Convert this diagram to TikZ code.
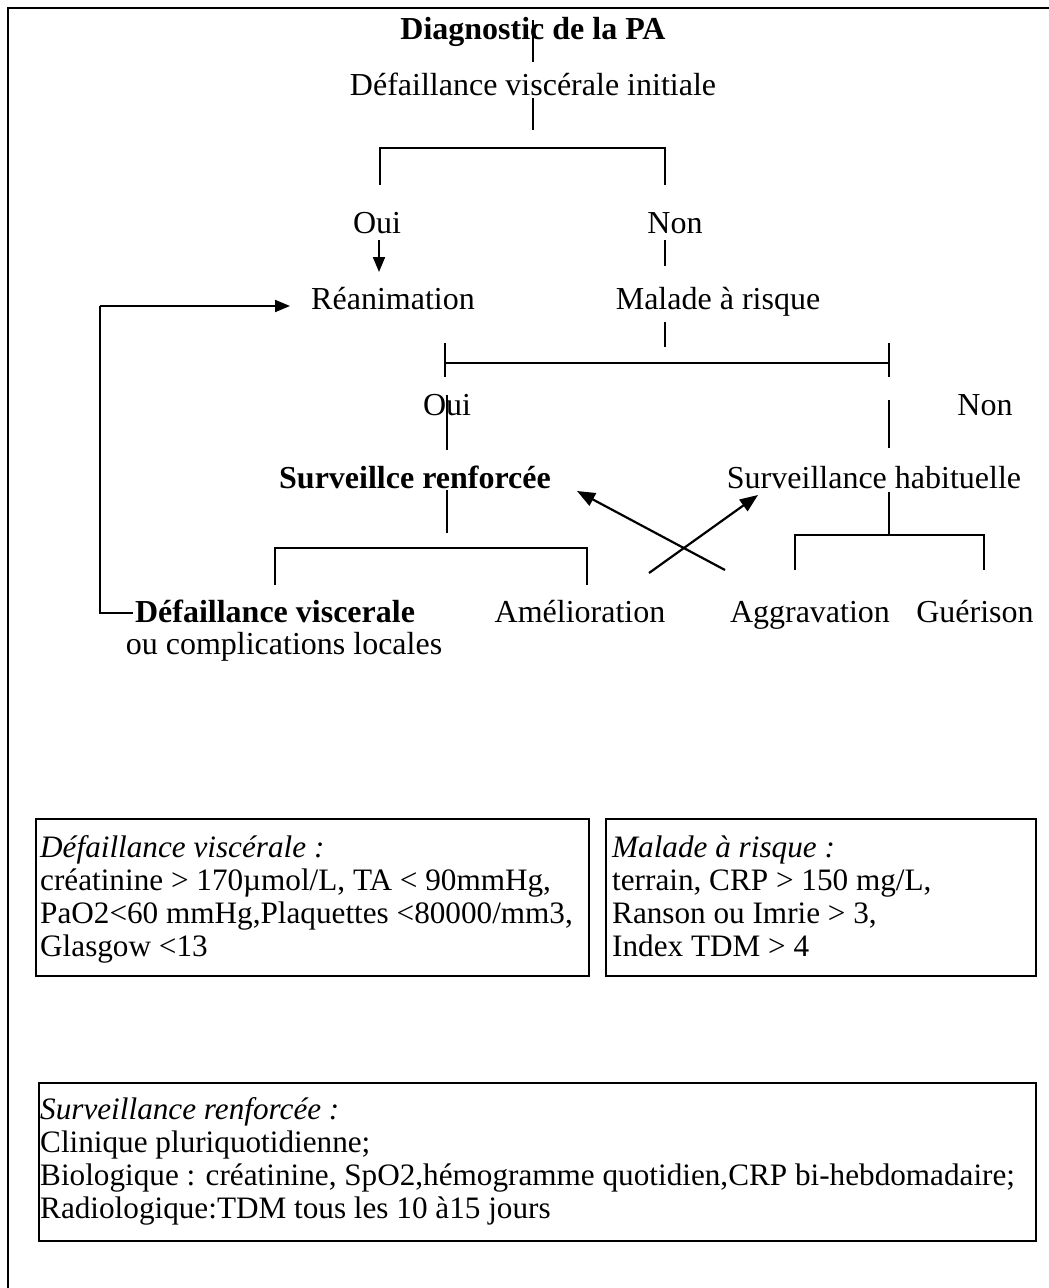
\documentclass[tikz,border=0pt]{standalone}
\usepackage{fontspec}
\setmainfont{Liberation Serif}
\usetikzlibrary{arrows.meta,calc}
\begin{document}
\begin{tikzpicture}[x=1pt,y=-1pt,
  lbl/.style={inner sep=0pt, anchor=base, font=\fontsize{32}{34}\selectfont},
  blbl/.style={inner sep=0pt, anchor=base, font=\fontsize{32}{34}\selectfont\bfseries},
  ilbl/.style={inner sep=0pt, anchor=base west, font=\fontsize{31.2}{33}\selectfont\itshape},
  rlbl/.style={inner sep=0pt, anchor=base west, font=\fontsize{31.2}{33}\selectfont},
  conn/.style={line width=1.5pt},
  arr/.style={line width=2pt,-{Triangle[length=15pt,width=12pt]}},
  bigarr/.style={line width=2.2pt,-{Triangle[length=18pt,width=14pt]}},
  infobox/.style={draw, line width=1.8pt, inner sep=0pt, anchor=north west}]
\useasboundingbox (0,0) rectangle (1049,1288);
\fill[white] (0,0) rectangle (1049,1288);
% page frame
\draw[line width=2.5pt] (8,1300) -- (8,8) -- (1060,8);

% decision tree labels
\node[blbl] (title) at (533,39) {Diagnostic de la PA};
\node[lbl] (dvi) at (533,95) {Défaillance viscérale initiale};
\node[lbl] (oui1) at (377,233) {Oui};
\node[lbl] (non1) at (675,233) {Non};
\node[lbl] (rea) at (393,309) {Réanimation};
\node[lbl] (mar) at (718,309) {Malade à risque};
\node[lbl] (oui2) at (447,415) {Oui};
\node[lbl] (non2) at (985,415) {Non};
\node[blbl] (sren) at (415,488) {Surveillce renforcée};
\node[lbl] (shab) at (874,488) {Surveillance habituelle};
\node[blbl] (dvis) at (275,622) {Défaillance viscerale};
\node[lbl] (dvis2) at (284,654) {ou complications locales};
\node[lbl] (amel) at (580,622) {Amélioration};
\node[lbl] (aggr) at (810,622) {Aggravation};
\node[lbl] (guer) at (975,622) {Guérison};

% connector points
\coordinate (t1) at (533,20);  \coordinate (t2) at (533,62);
\coordinate (d1) at (533,98);  \coordinate (d2) at (533,130);
\coordinate (b1l) at (380,148); \coordinate (b1r) at (665,148);
\coordinate (b1lb) at (380,185); \coordinate (b1rb) at (665,185);
\coordinate (o1a) at (379,240); \coordinate (o1b) at (379,272);
\coordinate (n1a) at (665,240); \coordinate (n1b) at (665,266);
\coordinate (m1) at (665,322); \coordinate (m2) at (665,347);
\coordinate (b2l) at (445,363); \coordinate (b2r) at (889,363);
\coordinate (o2a) at (447,395); \coordinate (o2b) at (447,450);
\coordinate (n2a) at (889,400); \coordinate (n2b) at (889,448);
\coordinate (s1a) at (447,490); \coordinate (s1b) at (447,533);
\coordinate (b3l) at (275,548); \coordinate (b3r) at (587,548);
\coordinate (h1a) at (889,492); \coordinate (h1b) at (889,535);
\coordinate (b4l) at (795,535); \coordinate (b4r) at (984,535);
\coordinate (xa) at (725,570); \coordinate (xat) at (577,491);
\coordinate (xb) at (649,573); \coordinate (xbt) at (758,495);
\coordinate (fb1) at (133,613); \coordinate (fb2) at (100,613);
\coordinate (fb3) at (100,306); \coordinate (fbt) at (290,306);

% tree connectors
\draw[conn] (t1) -- (t2);
\draw[conn] (d1) -- (d2);
\draw[conn] (b1lb) -- (b1l) -- (b1r) -- (b1rb);
\draw[arr] (o1a) -- (o1b);
\draw[conn] (n1a) -- (n1b);
\draw[conn] (m1) -- (m2);
\draw[conn] (b2l) -- (b2r);
\draw[conn] ($(b2l)+(0,-20)$) -- ($(b2l)+(0,14)$);
\draw[conn] ($(b2r)+(0,-20)$) -- ($(b2r)+(0,14)$);
\draw[conn] (o2a) -- (o2b);
\draw[conn] (n2a) -- (n2b);
\draw[conn] (s1a) -- (s1b);
\draw[conn] ($(b3l)+(0,37)$) -- (b3l) -- (b3r) -- ($(b3r)+(0,37)$);
\draw[conn] (h1a) -- (h1b);
\draw[conn] ($(b4l)+(0,35)$) -- (b4l) -- (b4r) -- ($(b4r)+(0,35)$);
\draw[bigarr] (xa) -- (xat);
\draw[bigarr] (xb) -- (xbt);
\draw[conn] (fb1) -- (fb2) -- (fb3);
\draw[arr] (fb3) -- (fbt);

% definition boxes
\node[infobox, minimum width=553, minimum height=157] (box1) at (35,818) {};
\node[ilbl] (box1a) at (40,857) {Défaillance viscérale :};
\node[rlbl] (box1b) at (40,890) {créatinine > 170µmol/L, TA < 90mmHg,};
\node[rlbl] (box1c) at (40,923) {PaO2<60 mmHg,Plaquettes <80000/mm3,};
\node[rlbl] (box1d) at (40,956) {Glasgow <13};

\node[infobox, minimum width=430, minimum height=157] (box2) at (605,818) {};
\node[ilbl] (box2a) at (612,857) {Malade à risque :};
\node[rlbl] (box2b) at (612,890) {terrain, CRP > 150 mg/L,};
\node[rlbl] (box2c) at (612,923) {Ranson ou Imrie > 3,};
\node[rlbl] (box2d) at (612,956) {Index TDM > 4};

\node[infobox, minimum width=997, minimum height=158] (box3) at (38,1082) {};
\node[ilbl] (box3a) at (40,1119) {Surveillance renforcée :};
\node[rlbl] (box3b) at (40,1152) {Clinique pluriquotidienne;};
\node[rlbl] (box3c) at (40,1185) {Biologique : créatinine, SpO2,hémogramme quotidien,CRP bi-hebdomadaire;};
\node[rlbl] (box3d) at (40,1218) {Radiologique:TDM tous les 10 à15 jours};
\end{tikzpicture}
\end{document}
